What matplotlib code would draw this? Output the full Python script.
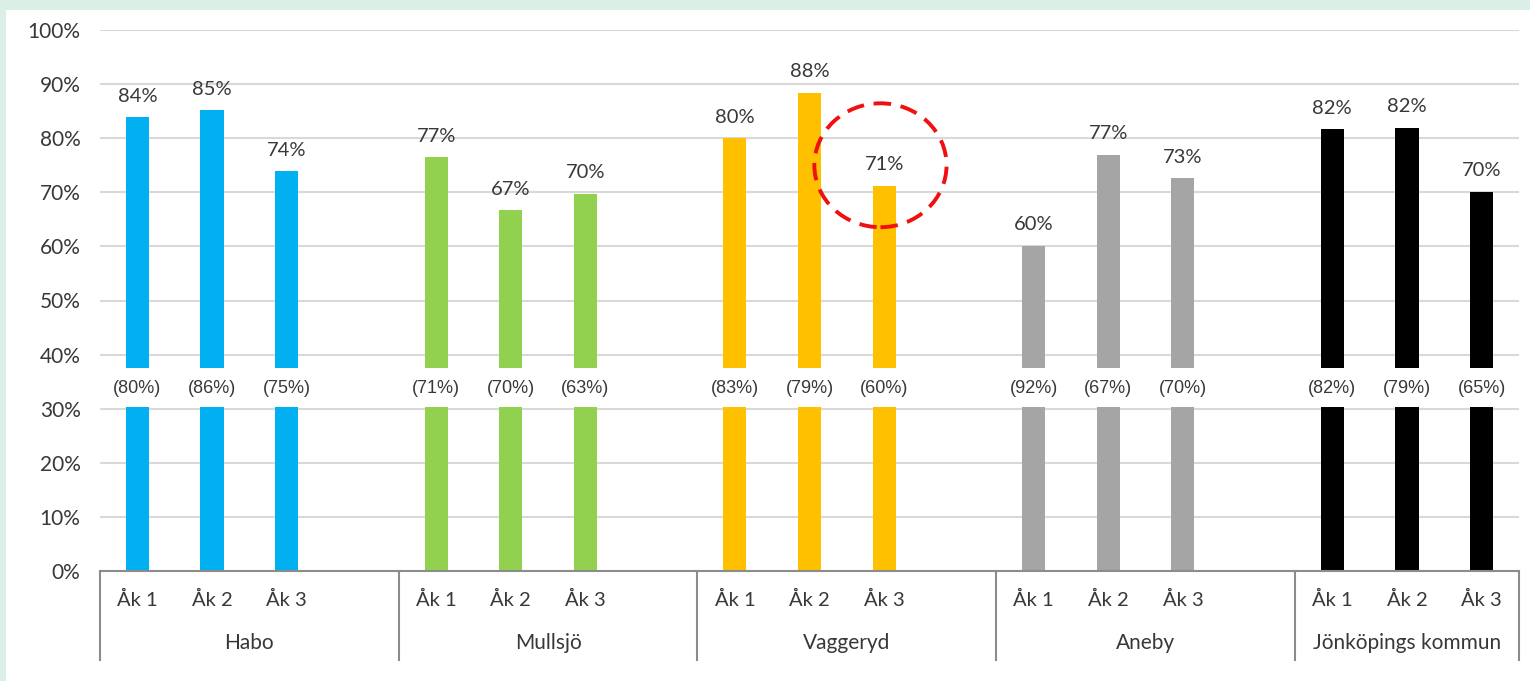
import matplotlib
matplotlib.use("Agg")
import matplotlib.pyplot as plt
from matplotlib.patches import Rectangle, Ellipse
from matplotlib.ticker import FuncFormatter
import matplotlib.transforms as mtransforms

# ---- data ----
groups = ["Habo", "Mullsjö", "Vaggeryd", "Aneby", "Jönköpings kommun"]
grades = ["Åk 1", "Åk 2", "Åk 3"]
values = {
    "Habo": [83.9, 85.2, 73.9],
    "Mullsjö": [76.5, 66.7, 69.7],
    "Vaggeryd": [80.0, 88.4, 71.2],
    "Aneby": [60.1, 76.9, 72.6],
    "Jönköpings kommun": [81.7, 81.9, 70.1],
}
value_labels = {
    "Habo": ["84%", "85%", "74%"],
    "Mullsjö": ["77%", "67%", "70%"],
    "Vaggeryd": ["80%", "88%", "71%"],
    "Aneby": ["60%", "77%", "73%"],
    "Jönköpings kommun": ["82%", "82%", "70%"],
}
previous_labels = {
    "Habo": ["(80%)", "(86%)", "(75%)"],
    "Mullsjö": ["(71%)", "(70%)", "(63%)"],
    "Vaggeryd": ["(83%)", "(79%)", "(60%)"],
    "Aneby": ["(92%)", "(67%)", "(70%)"],
    "Jönköpings kommun": ["(82%)", "(79%)", "(65%)"],
}
colors = ["#00b0f0", "#92d050", "#ffc000", "#a5a5a5", "#000000"]
yticks = [0, 10, 20, 30, 40, 50, 60, 70, 80, 90, 100]

MAIN_FONT = ["Lato", "DejaVu Sans"]
SMALL_FONT = ["Liberation Sans", "DejaVu Sans"]
TXT = "#383838"

W, H = 1530, 681
fig = plt.figure(figsize=(W / 100, H / 100), dpi=100)
fig.patch.set_facecolor("#dcefe7")
fig.add_artist(Rectangle((6 / W, 0), 1 - 6 / W, (H - 10) / H,
                         transform=fig.transFigure, facecolor="white",
                         edgecolor="none", zorder=0))

ax = fig.add_axes([100 / W, (H - 571) / H, 1419 / W, 541 / H])
ax.set_facecolor("none")
ax.set_ylim(0, 100)

# positions: 4 slots per group (last slot empty), last group 3 slots
positions = []
group_bounds = [-0.5]
for g, name in enumerate(groups):
    base = 4 * g
    positions.append([base + k for k in range(3)])
    group_bounds.append(base + 3.5 if g < len(groups) - 1 else base + 2.5)
ax.set_xlim(-0.5, group_bounds[-1])

for g, name in enumerate(groups):
    ax.bar(positions[g], values[name], width=0.31, color=colors[g], zorder=2)
    for x, v, lab, prev in zip(positions[g], values[name], value_labels[name], previous_labels[name]):
        ax.annotate(lab, (x, v), xytext=(0, 9), textcoords="offset points",
                    ha="center", va="bottom", fontsize=14.5, color=TXT,
                    family=MAIN_FONT, zorder=5)
        ax.text(x, 33.8, prev, ha="center", va="center", fontsize=13,
                color=TXT, family=SMALL_FONT, zorder=5)

# white band interrupting the bars
ax.add_patch(Rectangle((ax.get_xlim()[0], 30.3), ax.get_xlim()[1] - ax.get_xlim()[0], 7.2,
                       facecolor="white", edgecolor="none", zorder=3))

# grid
ax.set_yticks(yticks)
ax.yaxis.set_major_formatter(FuncFormatter(lambda v, p: f"{int(v)}%"))
ax.grid(axis="y", color="#d9d9d9", linewidth=1.5, zorder=0)
ax.set_axisbelow(True)
ax.tick_params(axis="y", length=0, pad=14, labelsize=15, labelcolor=TXT)
for lab in ax.get_yticklabels():
    lab.set_family(MAIN_FONT)
for s in ["top", "right", "left"]:
    ax.spines[s].set_visible(False)
ax.spines["bottom"].set_color("#8c8c8c")
ax.spines["bottom"].set_linewidth(1.5)
ax.spines["bottom"].set_zorder(4)

# category axis
ax.set_xticks([])
trans = mtransforms.blended_transform_factory(ax.transData, ax.transAxes)
for b in group_bounds:
    ax.plot([b, b], [0, -0.1645], transform=trans, color="#8c8c8c",
            linewidth=1.5, clip_on=False, zorder=4)
for g, name in enumerate(groups):
    for x, gr in zip(positions[g], grades):
        ax.text(x, -0.0536, gr, transform=trans, ha="center", va="center",
                fontsize=14.5, color=TXT, family=MAIN_FONT)
    ax.text((group_bounds[g] + group_bounds[g + 1]) / 2, -0.133, name,
            transform=trans, ha="center", va="center", fontsize=15,
            color=TXT, family=MAIN_FONT)

# red dashed highlight around Vaggeryd Åk 3
ax.add_patch(Ellipse((positions[2][2] - 0.05, 75.0), 1.77, 22.9, fill=False,
                     edgecolor="#f01010", linewidth=2.8, linestyle=(0, (4.5, 2.5)),
                     zorder=6, clip_on=False))

fig.savefig("out.png", dpi=100, facecolor=fig.get_facecolor())
